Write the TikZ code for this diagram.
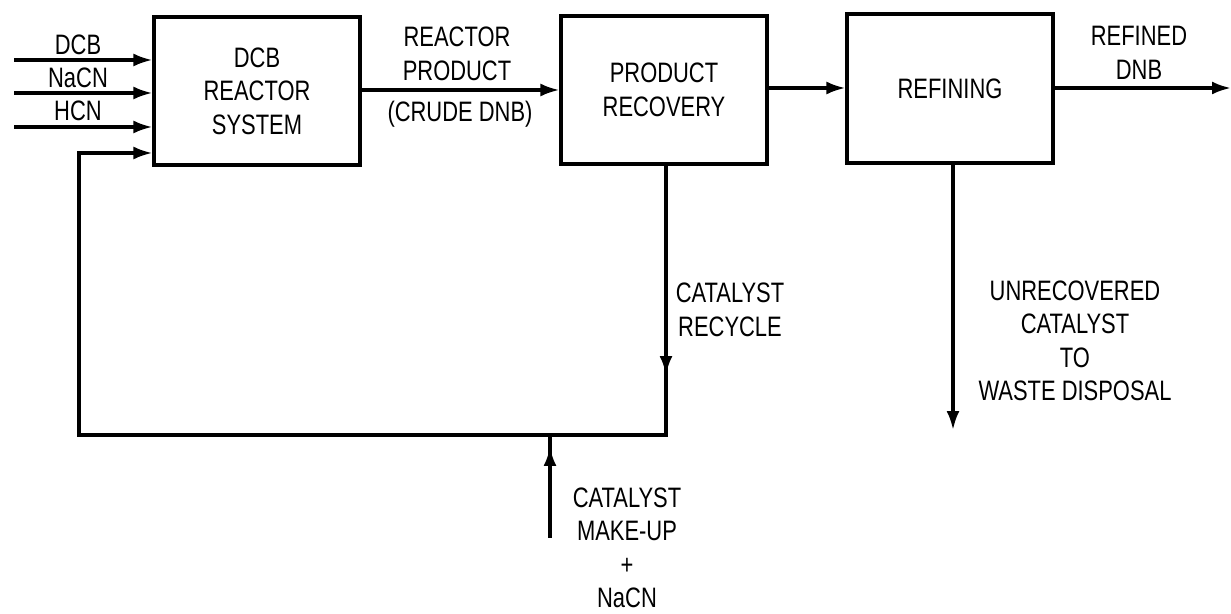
\documentclass[tikz,border=0pt]{standalone}
\usepackage{fontspec}
\setmainfont{Liberation Sans}[FakeStretch=0.78]
\usepackage{tikz}
\usetikzlibrary{arrows.meta,positioning,calc}

\begin{document}
\begin{tikzpicture}[
    x=0.02cm, y=-0.02cm,
    line width=1.8pt,
    font=\fontsize{16}{19}\selectfont,
    box/.style={rectangle, draw, minimum width=4.12cm, minimum height=2.96cm, align=center},
    lbl/.style={align=center, inner sep=0pt},
    arrow/.style={-{Latex[length=3.8mm,width=2.6mm]}}
]
\useasboundingbox (0,0) rectangle (1231,614);

% Units
\node[box] (reactor) at (257, 91) {DCB\\REACTOR\\SYSTEM};
\node[box] (recovery) at (664, 90) {PRODUCT\\RECOVERY};
\node[box, minimum height=2.98cm] (refining) at (950, 88.5) {REFINING};

% Feed streams
\coordinate (dcbin) at (14, 60);
\coordinate (nacnin) at (14, 93);
\coordinate (hcnin) at (14, 127);
\node[lbl] (dcblbl) at (78, 45) {DCB};
\node[lbl] (nacnlbl) at (78, 78) {NaCN};
\node[lbl] (hcnlbl) at (78, 111) {HCN};
\draw[arrow] (dcbin) -- (dcbin -| reactor.west);
\draw[arrow] (nacnin) -- (nacnin -| reactor.west);
\draw[arrow] (hcnin) -- (hcnin -| reactor.west);

% Main line
\draw[arrow] (reactor.east |- 0,90) -- (recovery.west |- 0,90);
\node[lbl] (prodlbl) at (457, 54) {REACTOR\\PRODUCT};
\node[lbl] (crudelbl) at (460, 114) {(CRUDE DNB)};
\draw[arrow] (recovery.east |- 0,88) -- (refining.west |- 0,88);
\coordinate (dnbout) at (1231, 88);
\draw[arrow] (refining.east |- dnbout) -- (dnbout);
\node[lbl] (dnblbl) at (1139, 53) {REFINED\\DNB};

% Waste
\coordinate (waste) at (953, 430);
\draw[arrow] (refining.south -| waste) -- (waste);
\node[lbl] (wastelbl) at (1075, 341) {UNRECOVERED\\CATALYST\\TO\\WASTE DISPOSAL};

% Catalyst recycle
\coordinate (rtip) at (666, 375);
\coordinate (rcorner) at (666, 435);
\coordinate (lcorner) at (79, 435);
\coordinate (rin) at (79, 153);
\draw[line join=miter] (recovery.south -| rtip) -- (rcorner) -- (lcorner) -- (rin) -- ++(20,0);
\draw[arrow] (recovery.south -| rtip) -- (rtip);
\draw[arrow] (rin) -- (rin -| reactor.west);
\node[lbl] (recyclelbl) at (730, 310) {CATALYST\\RECYCLE};

% Make-up
\coordinate (makeup) at (550, 538);
\coordinate (mtip) at (550, 447);
\draw (makeup) -- (mtip |- lcorner);
\draw[arrow] (makeup) -- (mtip);
\node[lbl] (makeuplbl) at (627, 548) {CATALYST\\MAKE-UP\\+\\NaCN};

\end{tikzpicture}
\end{document}
